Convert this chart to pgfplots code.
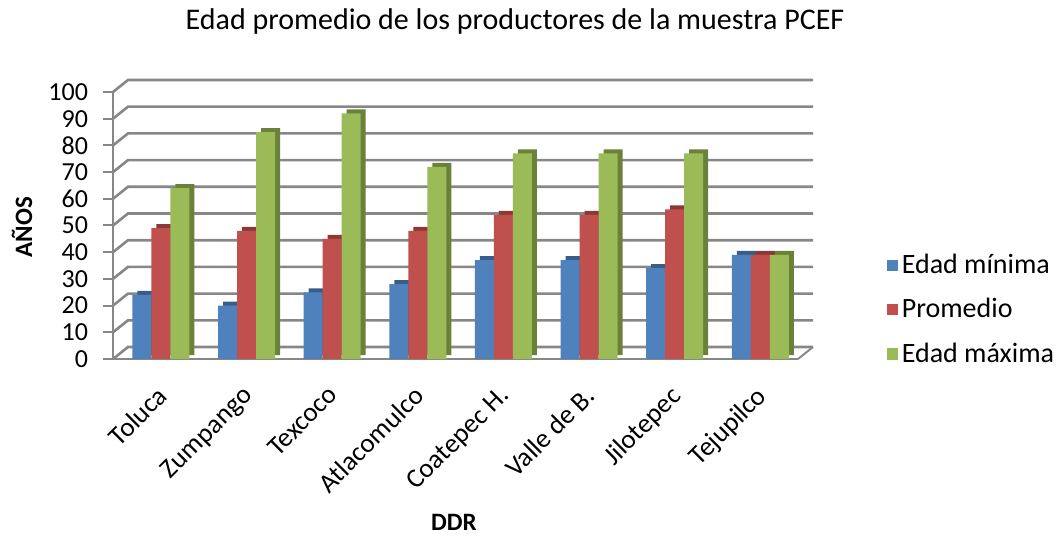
\documentclass[border=0pt]{standalone}
\usepackage{pgfplots}
\pgfplotsset{compat=1.18}
\usepackage{fontspec}
\setmainfont{Carlito}

\definecolor{cblue}{HTML}{4F81BD}
\definecolor{cred}{HTML}{C0504D}
\definecolor{cgreen}{HTML}{9BBB59}
\definecolor{dblue}{HTML}{385D8A}
\definecolor{dred}{HTML}{8C3836}
\definecolor{dgreen}{HTML}{6B8038}
\definecolor{gridgray}{HTML}{878787}

\begin{document}
\begin{tikzpicture}[x=1pt,y=1pt]
\path[use as bounding box] (0,0) rectangle (529,267.5);
\node[font=\fontsize{15}{18}\selectfont] at (257.5,256.5) {Edad promedio de los productores de la muestra PCEF};
\node[font=\bfseries\fontsize{12.5}{14}\selectfont, rotate=90] at (11,154) {AÑOS};
\node[font=\bfseries\fontsize{12.5}{14}\selectfont] at (227,6.5) {DDR};

\begin{axis}[
    at={(56.5pt,88pt)}, anchor=south west,
    scale only axis,
    width=342.5pt, height=133.5pt,
    xmin=-0.56, xmax=7.44, ymin=0, ymax=100,
    ybar, bar width=9.5pt,
    clip=false,
    xtick={0,...,7},
    xticklabels={Toluca,Zumpango,Texcoco,Atlacomulco,Coatepec H.,Valle de B.,Jilotepec,Tejupilco},
    x tick label style={rotate=45, anchor=north east, xshift=-4pt, font=\fontsize{13.5}{15}\selectfont},
    x tick style={draw=none},
    ytick={0,10,...,100},
    y tick label style={xshift=-4pt},
    tick align=outside,
    major tick length=5pt,
    y tick style={gridgray, line width=1pt},
    axis x line*=bottom, axis y line*=left,
    axis line style={gridgray, line width=1pt},
    ticklabel style={font=\fontsize{13}{15}\selectfont},
    /pgf/number format/assume math mode=true,
    legend style={at={(1.12,0.185)}, anchor=west, draw=none,
        font=\fontsize{14}{16}\selectfont, row sep=7pt},
    legend cell align=left,
    legend image code/.code={\fill[#1] (0pt,-2.8pt) rectangle (5.6pt,2.8pt);},
]
% back wall grid, offset up and right for the 3D look
\pgfplotsinvokeforeach{0,10,...,100}{
  \draw[gridgray, line width=1.3pt] (axis cs:-0.56,#1) -- ++(7.5pt,6pt) -- ([shift={(7.5pt,6pt)}]axis cs:7.44,#1);
}
\draw[gridgray, line width=1pt] (axis cs:7.44,0) -- ++(7.5pt,6pt);

\addplot[fill=dblue, draw=none, bar shift=-9.5pt, xshift=2.5pt, yshift=2pt, forget plot] coordinates {
    (0,24) (1,20) (2,25) (3,28) (4,37) (5,37) (6,34) (7,39)};
\addplot[fill=cblue, draw=none, bar shift=-9.5pt] coordinates {
    (0,24) (1,20) (2,25) (3,28) (4,37) (5,37) (6,34) (7,39)};
\addlegendentry{Edad mínima}
\addplot[fill=dred, draw=none, bar shift=0pt, xshift=2.5pt, yshift=2pt, forget plot] coordinates {
    (0,49) (1,48) (2,45) (3,48) (4,54) (5,54) (6,56) (7,39)};
\addplot[fill=cred, draw=none, bar shift=0pt] coordinates {
    (0,49) (1,48) (2,45) (3,48) (4,54) (5,54) (6,56) (7,39)};
\addlegendentry{Promedio}
\addplot[fill=dgreen, draw=none, bar shift=9.5pt, xshift=2.5pt, yshift=2pt, forget plot] coordinates {
    (0,64) (1,85) (2,92) (3,72) (4,77) (5,77) (6,77) (7,39)};
\addplot[fill=cgreen, draw=none, bar shift=9.5pt] coordinates {
    (0,64) (1,85) (2,92) (3,72) (4,77) (5,77) (6,77) (7,39)};
\addlegendentry{Edad máxima}
\end{axis}
\end{tikzpicture}
\end{document}
